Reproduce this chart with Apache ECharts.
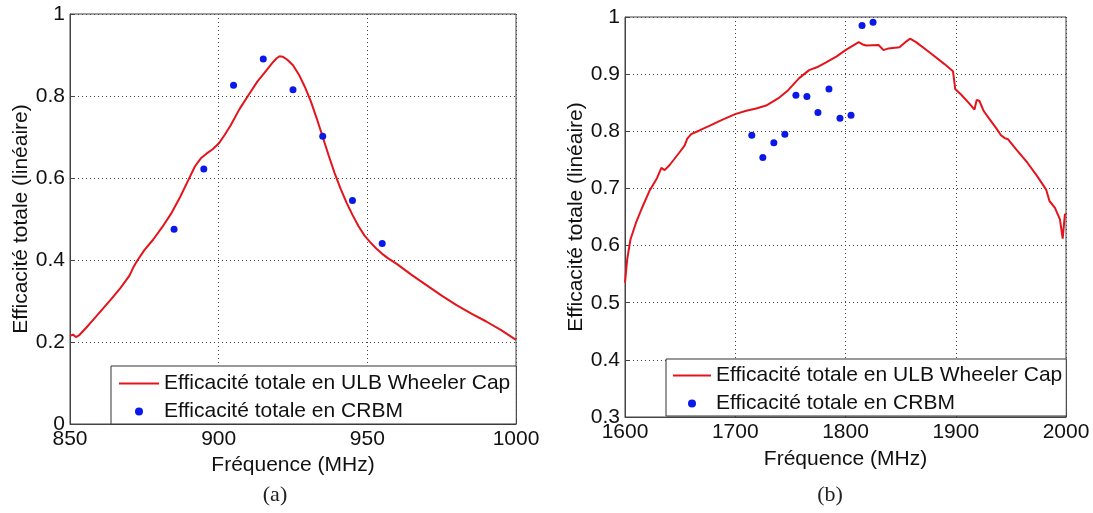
<!DOCTYPE html>
<html><head><meta charset="utf-8">
<script src="https://cdn.jsdelivr.net/npm/echarts@6/dist/echarts.min.js"></script>
<style>html,body{margin:0;padding:0;background:#fff}#c{width:1093px;height:513px}</style>
</head><body><div id="c"></div>
<script>
// ---- text ----
const nameLine = 'Efficacité totale en ULB Wheeler Cap';
const nameDots = 'Efficacité totale en CRBM';
const xTitle = 'Fréquence (MHz)';
const yTitle = 'Efficacité totale (linéaire)';
const captionA = '(a)';
const captionB = '(b)';

// ---- tick values ----
const xTicksA = [850, 900, 950, 1000];
const yTicksA = [0, 0.2, 0.4, 0.6, 0.8, 1];
const xTicksB = [1600, 1700, 1800, 1900, 2000];
const yTicksB = [0.3, 0.4, 0.5, 0.6, 0.7, 0.8, 0.9, 1];

// ---- panel (a): ULB Wheeler Cap curve ----
const freqA = [850, 851, 852, 853, 855.6, 858, 861, 864, 867, 870, 871.5, 872.5, 875, 878, 881, 884, 887, 890, 892, 894, 896, 898, 900, 902, 904, 907, 910, 913, 916, 918, 919.5, 920.5, 921.5, 923, 925, 927, 929, 931, 933, 935, 937, 939, 941, 943, 945, 947, 949, 951, 953, 955, 957, 960, 965, 970, 975, 980, 985, 990, 995, 1000];
const effA = [0.215, 0.218, 0.212, 0.216, 0.236, 0.256, 0.281, 0.306, 0.332, 0.362, 0.385, 0.397, 0.424, 0.450, 0.480, 0.513, 0.553, 0.598, 0.628, 0.648, 0.660, 0.670, 0.684, 0.705, 0.728, 0.768, 0.802, 0.835, 0.862, 0.880, 0.892, 0.897, 0.896, 0.889, 0.875, 0.852, 0.822, 0.787, 0.745, 0.700, 0.655, 0.612, 0.574, 0.540, 0.510, 0.483, 0.460, 0.443, 0.428, 0.415, 0.404, 0.390, 0.363, 0.338, 0.313, 0.290, 0.269, 0.250, 0.229, 0.205];
// ---- panel (a): CRBM measurements ----
const crbmFreqA = [885, 895, 905, 915, 925, 935, 945, 955];
const crbmA = [0.475, 0.622, 0.826, 0.890, 0.815, 0.702, 0.545, 0.440];

// ---- panel (b): ULB Wheeler Cap curve ----
const freqB = [1600, 1602, 1605, 1610, 1615, 1622, 1629, 1633, 1636, 1640.5, 1649, 1654, 1656.5, 1660, 1667, 1677, 1688, 1700, 1710, 1719, 1728, 1740, 1748, 1758, 1767, 1774, 1782, 1792, 1800, 1806, 1812, 1815.5, 1819, 1830, 1834.5, 1839, 1849, 1855, 1858.5, 1864, 1877, 1889.5, 1897.5, 1898.5, 1899.5, 1905, 1913, 1917, 1919, 1921.5, 1925.5, 1930, 1936.5, 1941, 1944.5, 1947.5, 1955, 1965, 1974, 1982, 1985, 1990, 1994.5, 1997, 1998, 1999, 2000];
const effB = [0.535, 0.576, 0.611, 0.640, 0.664, 0.695, 0.718, 0.736, 0.732, 0.741, 0.762, 0.775, 0.787, 0.795, 0.801, 0.810, 0.820, 0.830, 0.836, 0.840, 0.845, 0.859, 0.872, 0.893, 0.907, 0.912, 0.920, 0.931, 0.942, 0.949, 0.956, 0.952, 0.950, 0.951, 0.942, 0.945, 0.947, 0.957, 0.962, 0.956, 0.937, 0.918, 0.905, 0.890, 0.874, 0.864, 0.847, 0.838, 0.855, 0.853, 0.835, 0.823, 0.806, 0.793, 0.788, 0.786, 0.768, 0.745, 0.721, 0.698, 0.678, 0.666, 0.646, 0.612, 0.634, 0.654, 0.656];
// ---- panel (b): CRBM measurements ----
const crbmFreqB = [1715, 1725, 1735, 1745, 1755, 1765, 1775, 1785, 1795, 1805, 1815, 1825];
const crbmB = [0.793, 0.754, 0.780, 0.795, 0.863, 0.861, 0.833, 0.874, 0.823, 0.828, 0.985, 0.991];

// ---- build ----
const FONT = "'Liberation Sans', Arial, sans-serif";
const TXT = '#111';
const RED = '#e3141c';
const BLUE = '#0a18e8';
const zip = (xs, ys) => xs.map((x, i) => [x, ys[i]]);
const step = t => +(t[1] - t[0]).toFixed(6);
const fmt = v => String(+v.toFixed(6));

function xAxisOf(ticks, gridIndex, gap) {
  return {
    type: 'value', gridIndex, min: ticks[0], max: ticks[ticks.length - 1], interval: step(ticks),
    name: xTitle, nameLocation: 'middle', nameGap: gap,
    nameTextStyle: {fontFamily: FONT, fontSize: 21, color: TXT},
    axisLine: {show: true, lineStyle: {color: '#444', width: 1}},
    axisTick: {show: true, inside: true, length: 5, lineStyle: {color: '#444'}},
    axisLabel: {fontFamily: FONT, fontSize: 21, color: TXT, margin: 5, formatter: fmt},
    splitLine: {show: true, lineStyle: {type: [1, 3], color: '#444', width: 1}}
  };
}
function yAxisOf(ticks, gridIndex) {
  return {
    type: 'value', gridIndex, min: ticks[0], max: ticks[ticks.length - 1], interval: step(ticks),
    name: yTitle, nameLocation: 'middle', nameGap: 37, nameRotate: 90,
    nameTextStyle: {fontFamily: FONT, fontSize: 21, color: TXT},
    axisLine: {show: true, lineStyle: {color: '#444', width: 1}},
    axisTick: {show: true, inside: true, length: 5, lineStyle: {color: '#444'}},
    axisLabel: {fontFamily: FONT, fontSize: 21, color: TXT, margin: 5, formatter: fmt},
    splitLine: {show: true, lineStyle: {type: [1, 3], color: '#444', width: 1}}
  };
}
function legendOf(left, top, pad, gap, iw) {
  return {
    orient: 'vertical', left, top, padding: pad, itemGap: gap, itemWidth: iw, itemHeight: 8,
    backgroundColor: '#fff', borderColor: '#333', borderWidth: 1, borderRadius: 0,
    textStyle: {fontFamily: FONT, fontSize: 21, color: TXT},
    data: [
      {name: nameLine, icon: 'path://M0,0H40V2H0Z', itemStyle: {color: RED}},
      {name: nameDots, icon: 'circle', itemStyle: {color: BLUE, opacity: 1}}
    ],
    selectedMode: false
  };
}

const chart = echarts.init(document.getElementById('c'), null, {renderer: 'canvas'});
chart.setOption({
  animation: false,
  backgroundColor: '#fff',
  grid: [
    {left: 70, top: 14, width: 446, height: 410, show: true, borderColor: '#444', borderWidth: 1, backgroundColor: 'transparent'},
    {left: 625, top: 17, width: 441, height: 400, show: true, borderColor: '#444', borderWidth: 1, backgroundColor: 'transparent'}
  ],
  xAxis: [xAxisOf(xTicksA, 0, 30), xAxisOf(xTicksB, 1, 32)],
  yAxis: [yAxisOf(yTicksA, 0), yAxisOf(yTicksB, 1)],
  legend: [legendOf(111, 366, [7, 6, 2, 8], 7, 40), legendOf(666, 359, [6, 4, 2, 7], 7, 38)],
  series: [
    {name: nameLine, type: 'line', xAxisIndex: 0, yAxisIndex: 0, data: zip(freqA, effA), symbol: 'none', showSymbol: false,
     lineStyle: {color: RED, width: 2}, itemStyle: {color: RED}, z: 3},
    {name: nameDots, type: 'scatter', xAxisIndex: 0, yAxisIndex: 0, data: zip(crbmFreqA, crbmA), symbol: 'circle', symbolSize: 7,
     itemStyle: {color: BLUE, opacity: 1}, z: 4},
    {name: nameLine, type: 'line', xAxisIndex: 1, yAxisIndex: 1, data: zip(freqB, effB), symbol: 'none', showSymbol: false,
     lineStyle: {color: RED, width: 2}, itemStyle: {color: RED}, z: 3},
    {name: nameDots, type: 'scatter', xAxisIndex: 1, yAxisIndex: 1, data: zip(crbmFreqB, crbmB), symbol: 'circle', symbolSize: 7,
     itemStyle: {color: BLUE, opacity: 1}, z: 4}
  ],
  graphic: [
    {type: 'text', x: 275, y: 495, style: {text: captionA, fontFamily: "'Liberation Serif', serif", fontSize: 22, fill: '#222', align: 'center', verticalAlign: 'middle'}},
    {type: 'text', x: 830, y: 495, style: {text: captionB, fontFamily: "'Liberation Serif', serif", fontSize: 22, fill: '#222', align: 'center', verticalAlign: 'middle'}}
  ]
});
</script>
</body></html>
